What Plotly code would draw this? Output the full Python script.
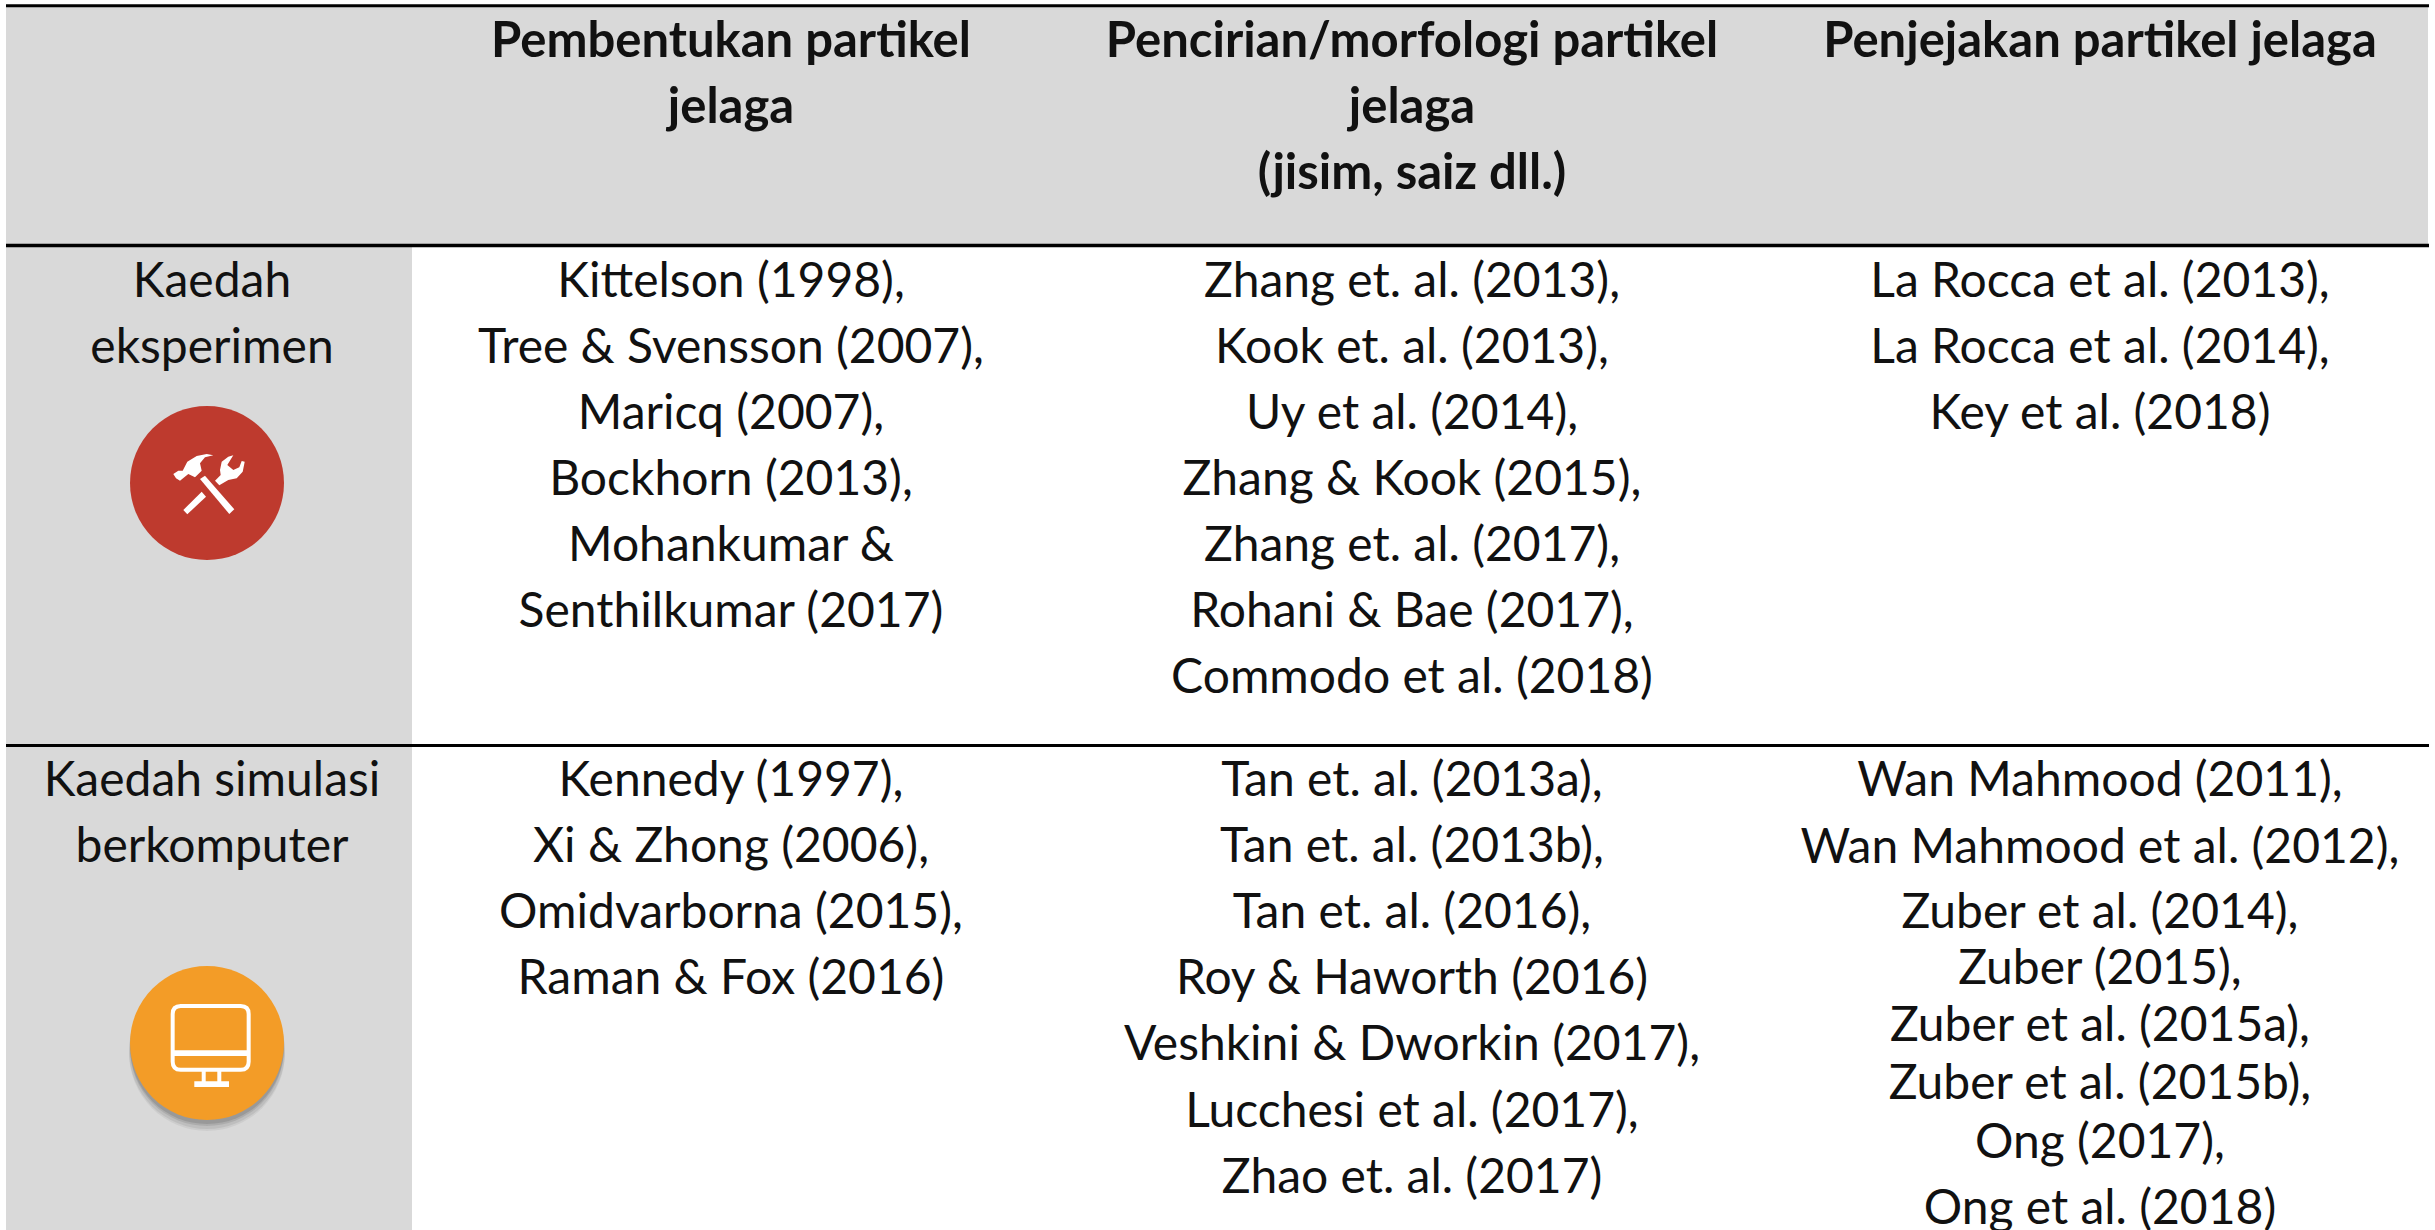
import plotly.graph_objects as go

W, H = 2435, 1230
FONT = "Lato"
INK = "#111111"
GREY = "#D9D9D9"

col_centers = [212, 731, 1412, 2100]
header_y = [45, 111, 177]
row1_y = [285, 351, 417, 483, 549, 615, 681]
row2_y = [784, 850, 916, 982, 1048, 1115, 1181]
col4_row2_y = [784, 851, 916, 972, 1029, 1087, 1146, 1212]

headers = [
    [],
    ["Pembentukan partikel", "jelaga"],
    ["Pencirian/morfologi partikel", "jelaga", "(jisim, saiz dll.)"],
    ["Penjejakan partikel jelaga"],
]
row1 = [
    ["Kaedah", "eksperimen"],
    ["Kittelson (1998),", "Tree & Svensson (2007),", "Maricq (2007),", "Bockhorn (2013),",
     "Mohankumar &", "Senthilkumar (2017)"],
    ["Zhang et. al. (2013),", "Kook et. al. (2013),", "Uy et al. (2014),", "Zhang & Kook (2015),",
     "Zhang et. al. (2017),", "Rohani & Bae (2017),", "Commodo et al. (2018)"],
    ["La Rocca et al. (2013),", "La Rocca et al. (2014),", "Key et al. (2018)"],
]
row2 = [
    ["Kaedah simulasi", "berkomputer"],
    ["Kennedy (1997),", "Xi & Zhong (2006),", "Omidvarborna (2015),", "Raman & Fox (2016)"],
    ["Tan et. al. (2013a),", "Tan et. al. (2013b),", "Tan et. al. (2016),", "Roy & Haworth (2016)",
     "Veshkini & Dworkin (2017),", "Lucchesi et al. (2017),", "Zhao et. al. (2017)"],
    ["Wan Mahmood (2011),", "Wan Mahmood et al. (2012),", "Zuber et al. (2014),", "Zuber (2015),",
     "Zuber et al. (2015a),", "Zuber et al. (2015b),", "Ong (2017),", "Ong et al. (2018)"],
]

fig = go.Figure()


def add_text(lines, x, ys, bold=False):
    if not lines:
        return
    labels = [f"<b>{t}</b>" if bold else t for t in lines]
    fig.add_trace(go.Scatter(
        x=[x] * len(lines), y=ys[:len(lines)], text=labels, mode="text",
        textposition="middle center", hoverinfo="skip", showlegend=False, cliponaxis=False,
        textfont=dict(family=FONT, size=49 if bold else 48, color=INK),
    ))


for i, x in enumerate(col_centers):
    add_text(headers[i], x, header_y, bold=True)
    add_text(row1[i], x, row1_y)
    add_text(row2[i], x, col4_row2_y if i == 3 else row2_y)

shapes = []


def rect(x0, y0, x1, y1, color):
    shapes.append(dict(type="rect", x0=x0, y0=y0, x1=x1, y1=y1,
                       fillcolor=color, line_width=0, layer="below"))


def hline(y, w=3):
    shapes.append(dict(type="line", x0=6, x1=2429, y0=y, y1=y,
                       line=dict(color="#000000", width=w), layer="above"))


def poly(points, ox, oy, color="white"):
    d = "M " + " L ".join(f"{ox + a / 3:.1f},{oy + b / 3:.1f}" for a, b in points) + " Z"
    shapes.append(dict(type="path", path=d, fillcolor=color, line_width=0, layer="above"))


def circle(cx, cy, r, color, opacity=1.0):
    shapes.append(dict(type="circle", x0=cx - r, x1=cx + r, y0=cy - r, y1=cy + r,
                       fillcolor=color, opacity=opacity, line_width=0, layer="above"))


rect(6, 6, 2428, 245, GREY)
rect(6, 245, 412, H, GREY)
hline(5.8, 3)
hline(245.5, 3.5)
hline(745.5, 3)

# red icon
circle(207, 483, 77, "#BE3A2E")
ox, oy = 100, 380
poly([(300, 297), (315, 287), (403, 388), (388, 402)], ox, oy)
poly([(220, 282), (235, 272), (248, 272), (262, 245), (290, 228), (320, 222), (340, 226),
      (315, 232), (300, 250), (305, 272), (285, 292), (265, 282), (240, 302), (228, 295)], ox, oy)
poly([(250, 390), (305, 335), (318, 350), (262, 403)], ox, oy)
poly([(345, 302), (362, 285), (360, 270), (365, 245), (385, 230), (400, 226), (382, 255),
      (400, 270), (418, 262), (425, 243), (434, 245), (428, 275), (410, 295), (385, 300), (358, 316)], ox, oy)

# orange icon with soft shadow
for off, r, op in [(10, 78, 0.05), (8, 78, 0.07), (6, 77, 0.09), (4, 77, 0.11)]:
    circle(207, 1043 + off, r, "#000000", op)
circle(207, 1043, 77, "#F39C27")
ox, oy = 100, 940
x0, x1, y0, y1, rr = ox + 218 / 3, ox + 446 / 3, oy + 198 / 3, oy + 389 / 3, 8
frame = (f"M {x0 + rr},{y0} L {x1 - rr},{y0} Q {x1},{y0} {x1},{y0 + rr} L {x1},{y1 - rr} "
         f"Q {x1},{y1} {x1 - rr},{y1} L {x0 + rr},{y1} Q {x0},{y1} {x0},{y1 - rr} "
         f"L {x0},{y0 + rr} Q {x0},{y0} {x0 + rr},{y0} Z")
shapes.append(dict(type="path", path=frame, line=dict(color="white", width=4),
                   fillcolor="rgba(0,0,0,0)", layer="above"))
poly([(218, 331), (446, 331), (446, 348), (218, 348)], ox, oy)
poly([(305, 392), (317, 392), (317, 426), (305, 426)], ox, oy)
poly([(352, 392), (364, 392), (364, 426), (352, 426)], ox, oy)
poly([(283, 424), (387, 424), (387, 441), (283, 441)], ox, oy)

fig.update_layout(
    width=W, height=H, margin=dict(l=0, r=0, t=0, b=0),
    paper_bgcolor="white", plot_bgcolor="white", shapes=shapes, showlegend=False,
    xaxis=dict(range=[0, W], visible=False, fixedrange=True),
    yaxis=dict(range=[H, 0], visible=False, fixedrange=True),
)
fig.write_html("out.html", config={"displayModeBar": False},
               post_script="document.body.style.margin='0';document.documentElement.style.overflow='hidden';")
